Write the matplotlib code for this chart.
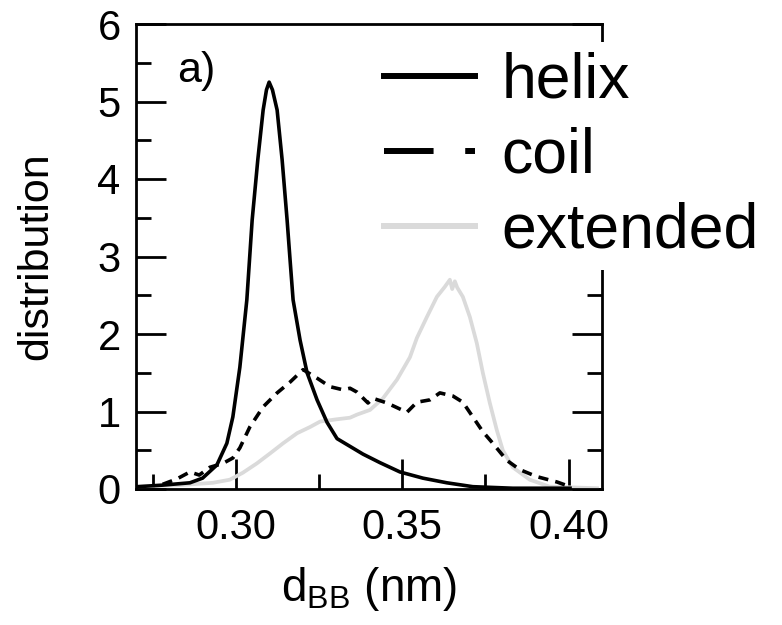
import numpy as np
import matplotlib
matplotlib.use("Agg")
import matplotlib.pyplot as plt
from matplotlib.lines import Line2D
from matplotlib.ticker import MultipleLocator

plt.rcParams['font.family'] = ['Liberation Sans', 'DejaVu Sans']
plt.rcParams['mathtext.fontset'] = 'custom'
plt.rcParams['mathtext.rm'] = 'Liberation Sans'

# distance distributions, read per curve as (d_BB, density) pairs
helix_x = [0.2705, 0.2780, 0.2862, 0.2900, 0.2943, 0.2973, 0.2991, 0.3012, 0.3033,
           0.3049, 0.3066, 0.3082, 0.3092, 0.3100, 0.3110, 0.3124, 0.3139, 0.3154,
           0.3163, 0.3172, 0.3193, 0.3214, 0.3244, 0.3274, 0.3304, 0.3343, 0.3382,
           0.3433, 0.3493, 0.3562, 0.3634, 0.3712, 0.3832, 0.4004]
helix_y = [0.03, 0.05, 0.08, 0.14, 0.31, 0.59, 0.93, 1.57, 2.44,
           3.47, 4.25, 4.89, 5.15, 5.25, 5.15, 4.89, 4.25, 3.47,
           2.95, 2.44, 1.92, 1.50, 1.15, 0.86, 0.65, 0.55, 0.45,
           0.34, 0.22, 0.14, 0.08, 0.03, 0.01, 0.01]

coil_x = [0.2780, 0.2823, 0.2862, 0.2890, 0.2922, 0.2961, 0.2991, 0.3012, 0.3042,
          0.3082, 0.3124, 0.3163, 0.3202, 0.3244, 0.3283, 0.3322, 0.3343, 0.3364,
          0.3397, 0.3412, 0.3454, 0.3514, 0.3544, 0.3583, 0.3613, 0.3652, 0.3682,
          0.3712, 0.3742, 0.3772, 0.3814, 0.3853, 0.3904, 0.3965, 0.4004]
coil_y = [0.06, 0.13, 0.22, 0.18, 0.28, 0.33, 0.40, 0.53, 0.80,
          1.06, 1.24, 1.38, 1.54, 1.43, 1.32, 1.28, 1.30, 1.25,
          1.11, 1.17, 1.11, 0.99, 1.12, 1.15, 1.24, 1.20, 1.12,
          0.93, 0.74, 0.59, 0.37, 0.25, 0.16, 0.09, 0.03]

ext_x = [0.2703, 0.2832, 0.2931, 0.2982, 0.3021, 0.3063, 0.3103, 0.3142, 0.3184,
         0.3223, 0.3253, 0.3304, 0.3343, 0.3364, 0.3403, 0.3442, 0.3484, 0.3523,
         0.3544, 0.3574, 0.3604, 0.3628, 0.3643, 0.3650, 0.3658, 0.3665, 0.3682,
         0.3703, 0.3724, 0.3742, 0.3763, 0.3784, 0.3802, 0.3832, 0.3883, 0.3943,
         0.4085]
ext_y = [0.03, 0.05, 0.08, 0.12, 0.21, 0.33, 0.46, 0.59, 0.72,
         0.80, 0.87, 0.90, 0.92, 0.96, 1.02, 1.17, 1.41, 1.70,
         1.95, 2.22, 2.48, 2.61, 2.70, 2.58, 2.68, 2.60, 2.48,
         2.22, 1.88, 1.50, 1.11, 0.76, 0.50, 0.28, 0.12, 0.03,
         0.01]

labels = ['helix', 'coil', 'extended']
ext_color = '#dadada'

fig = plt.figure(figsize=(7.82, 6.25), dpi=100)
ax = fig.add_axes([0.1739, 0.2176, 0.7698 - 0.1739, 0.9616 - 0.2176])

ax.plot(ext_x, ext_y, color=ext_color, lw=2.7, zorder=2)
ax.plot(coil_x, coil_y, color='black', lw=2.6, dashes=(2.8, 2.0), zorder=3)
ax.plot(helix_x, helix_y, color='black', lw=2.6, zorder=4)

ax.set_xlim(0.27, 0.41)
ax.set_ylim(0, 6)
ax.xaxis.set_major_locator(MultipleLocator(0.05))
ax.xaxis.set_minor_locator(MultipleLocator(0.025))
ax.yaxis.set_major_locator(MultipleLocator(1))
ax.yaxis.set_minor_locator(MultipleLocator(0.5))
ax.set_xticks([0.30, 0.35, 0.40])
ax.set_xticklabels(['0.30', '0.35', '0.40'])

for s in ax.spines.values():
    s.set_linewidth(2.0)
ax.tick_params(which='both', direction='in', width=2.0, top=False, right=True,
               labelsize=30)
ax.tick_params(which='major', length=21.5)
ax.tick_params(which='minor', length=10.5)
ax.tick_params(axis='y', pad=11)
ax.tick_params(axis='x', pad=14)

ax.set_xlabel(r'd$_{\mathregular{BB}}$ (nm)', fontsize=33, labelpad=12)
ax.set_ylabel('distribution', fontsize=31, labelpad=30)

ax.text(0.0875, 0.875, 'a)', transform=ax.transAxes, fontsize=31)

handles = [
    Line2D([], [], color='black', lw=4.3),
    Line2D([], [], color='black', lw=4.3, dashes=(8.3, 5.3)),
    Line2D([], [], color=ext_color, lw=4.3),
]
leg = fig.legend(handles, labels, loc='upper left',
                 bbox_to_anchor=(375 / 782, 1 - 42 / 625),
                 fontsize=45, frameon=True, fancybox=False,
                 handlelength=1.45, handletextpad=0.42, labelspacing=0.26,
                 borderpad=0.15, borderaxespad=0)
leg.get_frame().set_facecolor('white')
leg.get_frame().set_edgecolor('none')
leg.get_frame().set_alpha(1)
leg.set_zorder(10)

fig.savefig('out.png', dpi=100)
